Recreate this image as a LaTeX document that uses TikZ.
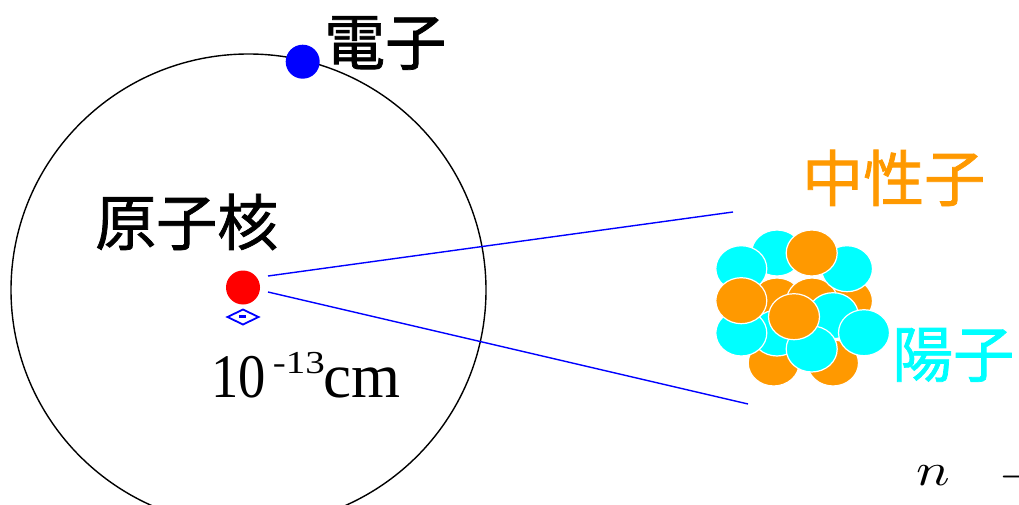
\documentclass[tikz,border=0pt]{standalone}
\usepackage{fontspec}
\setmainfont{Liberation Serif}
\newfontfamily\cjk[FakeBold=1.2]{Noto Sans CJK JP}
\definecolor{neutroncol}{RGB}{255,153,0}
\definecolor{protoncol}{RGB}{0,255,255}
\begin{document}
\begin{tikzpicture}[x=1pt,y=-1pt,
  orbitline/.style={draw=black,line width=1.4pt},
  dot/.style={circle,inner sep=0pt,minimum size=34pt},
  zoomline/.style={draw=blue,line width=1.4pt},
  nucleon/.style={draw=white,line width=1.2pt},
  bigtext/.style={inner sep=0pt,font=\cjk\fontsize{61}{64}\selectfont}
]
\useasboundingbox (0,0) rectangle (1019,505);
\clip (0,0) rectangle (1019,505);

% electron orbit
\draw[orbitline] (248.5,290) ellipse [x radius=237.5, y radius=236];

% nucleus and electron
\node[dot,fill=red] (nucleus) at (243,287.5) {};
\node[dot,fill=blue] (electron) at (302.7,61.7) {};

% size marker below the nucleus
\draw[blue,line width=1.8pt] (227.5,317) -- (243,309.5) -- (258.5,317) -- (243,324.5) -- cycle;
\draw[blue,line width=2.4pt] (239.3,316.5) -- (245.7,316.5);

% lines fanning out to the magnified nucleus
\coordinate (upperstart) at (268,276);
\coordinate (upperend) at (733,212);
\coordinate (lowerstart) at (268,292);
\coordinate (lowerend) at (748,404);
\draw[zoomline] (upperstart) -- (upperend);
\draw[zoomline] (lowerstart) -- (lowerend);

% magnified nucleus: protons and neutrons, back to front
\foreach \col/\px/\py in {
  neutroncol/773.7/363, neutroncol/833/363,
  neutroncol/777/301, neutroncol/847/301, neutroncol/812/301,
  protoncol/777/333,
  protoncol/777/253, protoncol/741.3/268.7, protoncol/847/268.7,
  neutroncol/811.7/253,
  protoncol/741.3/333, neutroncol/741.3/300.7,
  protoncol/833/315.7, protoncol/811.7/349, protoncol/864/332.7,
  neutroncol/794/316.7}
  \filldraw[nucleon,fill=\col] (\px,\py) ellipse [x radius=25.5, y radius=23];

% labels
\node[bigtext,anchor=west] (electronlabel) at (324,43) {電子};
\node[bigtext,anchor=west] (nucleuslabel) at (95,222) {原子核};
\node[bigtext,anchor=west,text=neutroncol] (neutronlabel) at (802,178) {中性子};
\node[bigtext,anchor=west,text=protoncol] (protonlabel) at (892,355) {陽子};
\node[inner sep=0pt,anchor=base west] (sizelabel) at (211,397)
  {\scalebox{0.88}[1]{\fontsize{62}{66}\selectfont 10}\hspace{7pt}%
   \raisebox{24pt}{\scalebox{1.22}[1]{\fontsize{32}{35}\selectfont -13}}\hspace{-1pt}%
   {\fontsize{63}{66}\selectfont cm}};
\node[inner sep=0pt,anchor=base west] (nsym) at (916,485) {\scalebox{5.6}[4.6]{$n$}};
\node[inner sep=0pt,anchor=west] (minussym) at (999,476.7) {\scalebox{4.6}{$-$}};
\end{tikzpicture}
\end{document}
